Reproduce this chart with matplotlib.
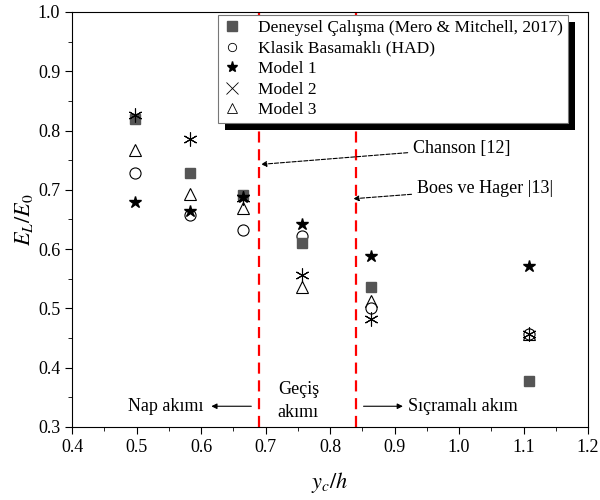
import matplotlib.pyplot as plt
from matplotlib.lines import Line2D
from matplotlib.patches import Rectangle
from matplotlib.ticker import MultipleLocator

plt.rcParams['font.family'] = ['Liberation Serif', 'DejaVu Serif']
plt.rcParams['mathtext.fontset'] = 'stix'

# data
yc_h = [0.497, 0.583, 0.665, 0.757, 0.863, 1.108]
deneysel = [0.819, 0.729, 0.692, 0.611, 0.536, 0.378]
klasik = [0.729, 0.657, 0.633, 0.623, 0.500, 0.457]
model1 = [0.679, 0.664, 0.688, 0.642, 0.589, 0.572]
model2 = [0.826, 0.785, 0.686, 0.557, 0.482, 0.457]
model3 = [0.768, 0.693, 0.670, 0.536, 0.513, 0.457]
labels = ['Deneysel Çalışma (Mero & Mitchell, 2017)', 'Klasik Basamaklı (HAD)',
          'Model 1', 'Model 2', 'Model 3']

fig, ax = plt.subplots(figsize=(6, 5), dpi=100)
fig.subplots_adjust(left=0.12, right=0.98, bottom=0.146, top=0.976)

ax.plot(yc_h, model3, ls='none', marker='^', ms=8, mfc='white', mec='black', mew=0.8)
ax.plot(yc_h, klasik, ls='none', marker='o', ms=8, mfc='white', mec='black', mew=0.8)
ax.plot(yc_h, deneysel, ls='none', marker='s', ms=7, color='#555555')
ax.plot(yc_h, model2, ls='none', marker=(6, 2, 0), ms=10, color='black', mew=0.8)
ax.plot(yc_h, model1, ls='none', marker='*', ms=9, color='black')

# flow regime limits
ax.axvline(0.69, color='red', ls=(0, (5, 3)), lw=1.6)
ax.axvline(0.84, color='red', ls=(0, (5, 3)), lw=1.6)

ax.annotate('Chanson [12]', xy=(0.693, 0.743), xytext=(0.929, 0.770),
            fontsize=13, va='center',
            arrowprops=dict(arrowstyle='-|>', ls='--', color='black', lw=0.8, shrinkA=2, shrinkB=0,
                            mutation_scale=8))
ax.annotate('Boes ve Hager |13|', xy=(0.836, 0.685), xytext=(0.935, 0.702),
            fontsize=13, va='center',
            arrowprops=dict(arrowstyle='-|>', ls='--', color='black', lw=0.8, shrinkA=2, shrinkB=0,
                            mutation_scale=8))

ax.annotate('', xy=(0.616, 0.335), xytext=(0.678, 0.335),
            arrowprops=dict(arrowstyle='-|>', color='black', lw=0.8, mutation_scale=8,
                            shrinkA=0, shrinkB=0))
ax.text(0.545, 0.335, 'Nap akımı', fontsize=13, ha='center', va='center')
ax.text(0.751, 0.364, 'Geçiş', fontsize=13, ha='center', va='center')
ax.text(0.751, 0.324, 'akımı', fontsize=13, ha='center', va='center')
ax.annotate('', xy=(0.913, 0.335), xytext=(0.852, 0.335),
            arrowprops=dict(arrowstyle='-|>', color='black', lw=0.8, mutation_scale=8,
                            shrinkA=0, shrinkB=0))
ax.text(0.921, 0.335, 'Sıçramalı akım', fontsize=13, ha='left', va='center')

ax.set_xlim(0.4, 1.2)
ax.set_ylim(0.3, 1.0)
ax.xaxis.set_major_locator(MultipleLocator(0.1))
ax.xaxis.set_minor_locator(MultipleLocator(0.05))
ax.yaxis.set_major_locator(MultipleLocator(0.1))
ax.yaxis.set_minor_locator(MultipleLocator(0.05))
ax.xaxis.set_major_formatter(lambda v, p: f'{v:.1f}')
ax.yaxis.set_major_formatter(lambda v, p: f'{v:.1f}')
ax.tick_params(which='major', direction='out', length=5, labelsize=13)
ax.tick_params(which='minor', direction='out', length=3)
ax.set_xlabel('$y_c/h$', fontsize=16, labelpad=10)
ax.set_ylabel('$E_L/E_0$', fontsize=16, labelpad=2)

handles = [
    Line2D([], [], ls='none', marker='s', ms=7, color='#555555'),
    Line2D([], [], ls='none', marker='o', ms=6, mfc='white', mec='black', mew=0.6),
    Line2D([], [], ls='none', marker='*', ms=8, color='black'),
    Line2D([], [], ls='none', marker='x', ms=8, color='black', mew=0.6),
    Line2D([], [], ls='none', marker='^', ms=7, mfc='white', mec='black', mew=0.6),
]
leg = ax.legend(handles, labels, loc='upper right', bbox_to_anchor=(0.962, 0.993),
                fontsize=12.5, fancybox=False, framealpha=1, edgecolor='#777777',
                labelspacing=0.25, handlelength=1.0, handletextpad=1.0, borderpad=0.3,
                borderaxespad=0)
leg.get_frame().set_linewidth(0.8)

# black shadow behind the legend
fig.canvas.draw()
bb = leg.get_window_extent().transformed(ax.transAxes.inverted())
dx, dy = 7 / 516, 7 / 415
ax.add_patch(Rectangle((bb.x0 + dx, bb.y0 - dy), bb.width, bb.height, transform=ax.transAxes,
                       facecolor='black', edgecolor='none', zorder=4.9, clip_on=False))

fig.savefig('out.png', dpi=100)
